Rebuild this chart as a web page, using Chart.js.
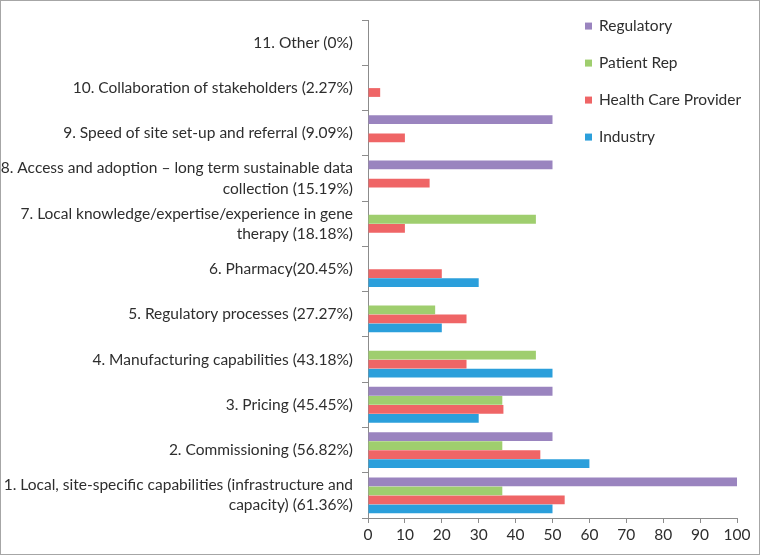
<!DOCTYPE html>
<html>
<head>
<meta charset="utf-8">
<script src="https://cdn.jsdelivr.net/npm/chart.js@4.4.1/dist/chart.umd.min.js"></script>
<style>
  body { margin: 0; background: #fff; }
  #wrap { width: 760px; height: 555px; box-sizing: border-box; border: 1px solid #a6a6a6; }
</style>
</head>
<body>
<div id="wrap"><canvas id="chart" width="758" height="553"></canvas></div>
<script>
// categories, bottom (1) to top (11)
const categories = [
    ["1. Local, site-specific capabilities (infrastructure and", "capacity) (61.36%)"],
    "2. Commissioning (56.82%)",
    "3. Pricing (45.45%)",
    "4. Manufacturing capabilities (43.18%)",
    "5. Regulatory processes (27.27%)",
    "6. Pharmacy(20.45%)",
    ["7. Local knowledge/expertise/experience in gene", "therapy (18.18%)"],
    ["8. Access and adoption \u2013 long term sustainable data", "collection (15.19%)"],
    "9. Speed of site set-up and referral (9.09%)",
    "10. Collaboration of stakeholders (2.27%)",
    "11. Other (0%)"
];

const industry   = [50, 60, 30, 50, 20, 30, 0, 0, 0, 0, 0];
const healthCare = [53.3, 46.7, 36.7, 26.7, 26.7, 20, 10, 16.7, 10, 3.3, 0];
const patientRep = [36.4, 36.4, 36.4, 45.5, 18.2, 0, 45.5, 0, 0, 0, 0];
const regulatory = [100, 50, 50, 0, 0, 0, 0, 50, 50, 0, 0];

const xTicks = [0, 10, 20, 30, 40, 50, 60, 70, 80, 90, 100];

const FONT = "Lato";
const TEXT = "#2e2e2e";
const AXIS = "#8c8c8c";

// legend drawn inside the plot, top-right
const sideLegend = {
    id: "sideLegend",
    afterDraw(chart) {
        const ctx = chart.ctx;
        const area = chart.chartArea;
        const x = area.left + 217;
        let y = area.top + 6;
        ctx.save();
        ctx.font = "15.5px " + FONT;
        ctx.textBaseline = "middle";
        ctx.textAlign = "left";
        chart.data.datasets.forEach(ds => {
            ctx.fillStyle = ds.backgroundColor;
            ctx.fillRect(x, y - 3.5, 7, 7);
            ctx.fillStyle = TEXT;
            ctx.fillText(ds.label, x + 14, y);
            y += 37;
        });
        ctx.restore();
    }
};

const ctx = document.getElementById("chart").getContext("2d");
new Chart(ctx, {
    type: "bar",
    data: {
        labels: categories,
        datasets: [
            { label: "Regulatory", data: regulatory, backgroundColor: "#9a84bf" },
            { label: "Patient Rep", data: patientRep, backgroundColor: "#9fce6e" },
            { label: "Health Care Provider", data: healthCare, backgroundColor: "#ef6566" },
            { label: "Industry", data: industry, backgroundColor: "#2b9fdb" }
        ]
    },
    options: {
        indexAxis: "y",
        animation: false,
        responsive: false,
        datasets: {
            bar: { categoryPercentage: 0.8, barPercentage: 0.97, borderWidth: 0 }
        },
        layout: { padding: { top: 16, right: 22, bottom: 0, left: 0 } },
        plugins: {
            legend: { display: false },
            tooltip: { enabled: false }
        },
        scales: {
            y: {
                reverse: true,
                afterFit: scale => { scale.width = 367; },
                grid: { drawOnChartArea: false, tickLength: 6, color: AXIS },
                border: { color: AXIS },
                ticks: { color: TEXT, font: { family: FONT, size: 15.5, lineHeight: 1.3 }, padding: 9, autoSkip: false }
            },
            x: {
                min: 0,
                max: 100,
                afterFit: scale => { scale.height = 36; },
                afterBuildTicks: scale => { scale.ticks = xTicks.map(v => ({ value: v })); },
                grid: { drawOnChartArea: false, tickLength: 5, color: AXIS },
                border: { color: AXIS },
                ticks: { color: TEXT, font: { family: FONT, size: 15.5 }, padding: 3 }
            }
        }
    },
    plugins: [sideLegend]
});
</script>
</body>
</html>
